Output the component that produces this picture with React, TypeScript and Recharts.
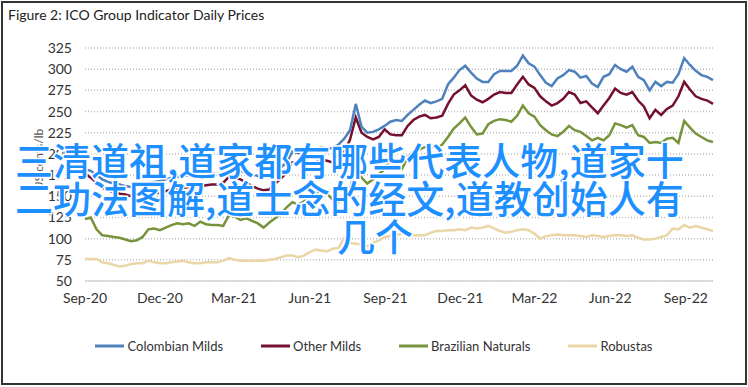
import { LineChart, Line, XAxis, YAxis, CartesianGrid, Legend } from "recharts";

// weekly samples, starting 1 Sep 2020
const colombianMilds = [
  182, 180, 175, 170, 167, 165, 164, 162, 161, 162,
  164, 166, 167, 168, 170, 172, 173, 174, 175, 176,
  175, 176, 177, 176, 178, 182, 183, 180, 177, 176,
  174, 172, 176, 181, 184, 190, 203, 201, 204, 203,
  205, 208, 206, 207, 211, 218, 228, 259, 232, 225,
  226, 229, 233, 238, 240, 239, 246, 252, 258, 263,
  260, 262, 265, 282, 290, 299, 304, 296, 289, 285,
  285, 294, 298, 298, 298, 304, 316, 307, 303, 293,
  284, 280, 289, 293, 299, 297, 290, 292, 283, 279,
  291, 294, 305, 300, 297, 303, 291, 287, 275, 285,
  280, 285, 284, 294, 313, 305, 298, 293, 291, 287,
];
const otherMilds = [
  177, 172, 166, 160, 157, 155, 153, 152, 150, 151,
  152, 153, 154, 154, 156, 158, 159, 160, 161, 162,
  162, 163, 164, 164, 166, 173, 172, 170, 166, 162,
  159, 157, 158, 165, 171, 178, 190, 188, 190, 189,
  190, 193, 192, 190, 195, 202, 217, 243, 225, 220,
  217, 220, 229, 223, 222, 222, 233, 240, 244, 246,
  242, 243, 245, 259, 270, 275, 281, 269, 264, 261,
  265, 270, 273, 272, 272, 282, 291, 282, 278, 268,
  262, 257, 260, 265, 273, 270, 260, 262, 255, 248,
  257, 266, 277, 272, 270, 273, 263, 256, 242, 252,
  246, 253, 257, 268, 285, 276, 268, 265, 263, 259,
];
const brazilianNaturals = [
  123, 125, 111, 104, 103, 102, 101, 99, 97, 98,
  102, 111, 112, 110, 113, 116, 118, 117, 118, 115,
  120, 117, 116, 116, 115, 128, 126, 122, 124, 121,
  118, 113, 119, 124, 129, 137, 143, 140, 144, 148,
  154, 156, 153, 146, 143, 149, 157, 190, 172, 165,
  170, 176, 182, 193, 184, 182, 196, 203, 205, 208,
  210, 207, 211, 220, 230, 236, 243, 232, 223, 224,
  235, 239, 241, 240, 238, 245, 257, 248, 244, 234,
  228, 223, 221, 226, 233, 228, 226, 221, 216, 219,
  216, 222, 236, 234, 231, 234, 222, 220, 213, 214,
  213, 218, 219, 213, 239, 231, 224, 220, 216, 214,
];
const robustas = [
  76, 76, 76, 72, 71, 69, 67, 68, 70, 71,
  71, 74, 72, 71, 71, 72, 73, 74, 72, 71,
  71, 72, 72, 72, 74, 77, 75, 74, 74, 74,
  74, 74, 75, 76, 78, 80, 80, 78, 80, 84,
  87, 86, 85, 88, 89, 101, 95, 94, 93, 91,
  95, 98, 102, 103, 104, 106, 106, 104, 104, 104,
  107, 109, 109, 110, 110, 111, 110, 113, 112, 113,
  115, 112, 109, 107, 108, 110, 111, 110, 106, 100,
  103, 104, 105, 104, 104, 104, 103, 102, 104, 103,
  102, 103, 104, 104, 103, 104, 101, 99, 99, 100,
  102, 104, 112, 111, 116, 113, 115, 113, 111, 109,
];

const tickDays = [0, 91, 181, 273, 365, 456, 546, 638, 730];
const tickLabels = ["Sep-20", "Dec-20", "Mar-21", "Jun-21", "Sep-21", "Dec-21", "Mar-22", "Jun-22", "Sep-22"];
const yTicks = [50, 75, 100, 125, 150, 175, 200, 225, 250, 275, 300, 325];

const overlayLines = [
  "三清道祖,道家都有哪些代表人物,道家十",
  "二功法图解,道士念的经文,道教创始人有",
  "几个",
];

const SERIES = [
  { key: "Colombian Milds", color: "#4F81BD" },
  { key: "Other Milds", color: "#74112F" },
  { key: "Brazilian Naturals", color: "#77933C" },
  { key: "Robustas", color: "#EAD6A6" },
];

const data = colombianMilds.map((v, i) => ({
  day: i * 7,
  "Colombian Milds": v,
  "Other Milds": otherMilds[i],
  "Brazilian Naturals": brazilianNaturals[i],
  Robustas: robustas[i],
}));

const FONT = "Lato, 'Liberation Sans', sans-serif";

function LegendRow() {
  return (
    <div style={{ display: "flex", justifyContent: "center", fontFamily: FONT, fontSize: 13, color: "#333" }}>
      {SERIES.map((s) => (
        <div key={s.key} style={{ display: "flex", alignItems: "center", margin: "0 19px" }}>
          <svg width={29} height={6} style={{ marginRight: 3 }}>
            <line x1={0} y1={3} x2={29} y2={3} stroke={s.color} strokeWidth={3} />
          </svg>
          <span>{s.key}</span>
        </div>
      ))}
    </div>
  );
}

export default function App() {
  return (
    <div style={{ position: "absolute", left: 0, top: 0, width: 748, height: 387, background: "#fff" }}>
      <div
        style={{
          position: "absolute",
          left: 1,
          top: 1,
          width: 742,
          height: 380,
          border: "2px solid #333",
        }}
      />
      <div style={{ position: "absolute", left: 8, top: 6, fontFamily: FONT, fontSize: 14, color: "#222" }}>
        Figure 2: ICO Group Indicator Daily Prices
      </div>
      <div style={{ position: "absolute", left: 0, top: 0 }}>
        <LineChart width={748} height={387} data={data} margin={{ top: 48, right: 35, bottom: 60, left: 25 }}>
          <CartesianGrid vertical={false} stroke="#bcbcbc" strokeDasharray="1 2" strokeWidth={1.5} />
          <XAxis
            dataKey="day"
            type="number"
            domain={[0, 763]}
            ticks={tickDays}
            tickFormatter={(d: number) => tickLabels[tickDays.indexOf(d)]}
            tickLine={false}
            tickSize={0}
            tickMargin={12}
            axisLine={{ stroke: "#d4d4d4", strokeWidth: 1.5 }}
            tick={{ fontFamily: FONT, fontSize: 14, fill: "#333" }}
            height={30}
          />
          <YAxis
            domain={[50, 325]}
            ticks={yTicks}
            interval={0}
            axisLine={false}
            tickLine={false}
            tickSize={0}
            tickMargin={13}
            width={60}
            tick={{ fontFamily: FONT, fontSize: 14, fill: "#333" }}
            label={{
              value: "US cents/lb",
              angle: -90,
              position: "left",
              offset: -14,
              dy: -5,
              style: { fontFamily: FONT, fontSize: 12, fill: "#555", textAnchor: "middle" },
            }}
          />
          <Legend content={<LegendRow />} verticalAlign="bottom" wrapperStyle={{ left: 0, width: 748, top: 338 }} />
          {SERIES.slice()
            .reverse()
            .map((s) => (
              <Line
                key={s.key}
                dataKey={s.key}
                stroke={s.color}
                strokeWidth={2.5}
                dot={false}
                type="linear"
                isAnimationActive={false}
              />
            ))}
        </LineChart>
      </div>
      <svg width={748} height={387} style={{ position: "absolute", left: 0, top: 0 }}>
        <g
          fontFamily="'Noto Sans CJK SC', sans-serif"
          fontSize={38}
          fontWeight={500}
          fill="#1E8FFF"
          stroke="#fff"
          strokeWidth={3}
          paintOrder="stroke"
        >
          <text x={15} y={175}>{overlayLines[0]}</text>
          <text x={15} y={213}>{overlayLines[1]}</text>
          <text x={337} y={251}>{overlayLines[2]}</text>
        </g>
      </svg>
    </div>
  );
}
